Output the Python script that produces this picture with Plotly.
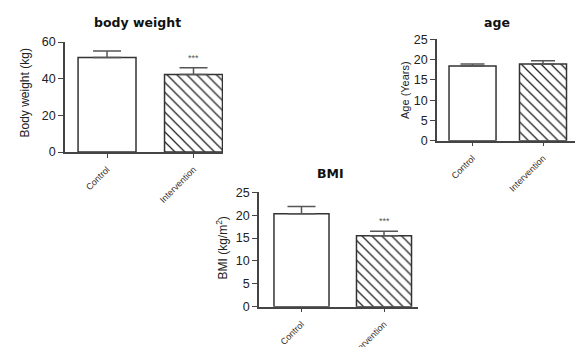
import plotly.graph_objects as go

groups = ["Control", "Intervention"]

bw_mean = [51.6, 42.3]
bw_err = [3.5, 3.7]

age_mean = [18.4, 18.9]
age_err = [0.5, 0.8]

bmi_mean = [20.3, 15.5]
bmi_err = [1.6, 1.0]

titles = ["body weight", "age", "BMI"]
ytitles = ["Body weight (kg)", "Age (Years)", "BMI (kg/m<sup>2</sup>)"]
sig_marks = ["", "***"]

W, H = 576, 347
def px(x):
    return x / W
def py(y):
    return 1 - y / H

panels = [
    dict(m=bw_mean, e=bw_err, xd=(65, 223), yd=(42, 152), xr=(-0.486, 1.341), ymax=60, dt=20, cap=14, bw=0.67,
         tpos=(137, 22), ypos=(25, 93.5), yts=12, stars=True),
    dict(m=age_mean, e=age_err, xd=(437, 575), yd=(39.3, 140.7), xr=(-0.504, 1.454), ymax=25, dt=5, cap=12, bw=0.667,
         tpos=(497, 22), ypos=(405, 90), yts=11, stars=False),
    dict(m=bmi_mean, e=bmi_err, xd=(259, 418), yd=(192.3, 306.7), xr=(-0.515, 1.412), ymax=25, dt=5, cap=14, bw=0.667,
         tpos=(330, 173), ypos=(221, 248.5), yts=12, stars=True),
]

fig = go.Figure()
annotations = []
axis_col = "#444444"
for i, p in enumerate(panels):
    k = "" if i == 0 else str(i + 1)
    xa, ya = "x" + k, "y" + k
    fig.add_trace(go.Bar(
        x=groups, y=p["m"], xaxis=xa, yaxis=ya, width=p["bw"],
        marker=dict(color="white", line=dict(color="#333333", width=1.5),
                    pattern=dict(shape=["", "\\"], size=7, solidity=0.18,
                                 fgcolor="#222222", bgcolor="white", fillmode="replace")),
        error_y=dict(type="data", symmetric=False, array=p["e"], arrayminus=[0, 0],
                     color="#555555", thickness=1.5, width=p["cap"]),
        showlegend=False, hoverinfo="skip",
    ))
    fig.update_layout(**{
        "xaxis" + k: dict(domain=[px(p["xd"][0]), px(p["xd"][1])], anchor=ya, range=list(p["xr"]),
                          type="category", showline=True, linecolor=axis_col, linewidth=1.5,
                          ticks="outside", ticklen=4, tickcolor=axis_col, tickwidth=1,
                          tickangle=-45, ticklabelstandoff=3, automargin=False,
                          tickfont=dict(family="Liberation Sans", size=9, color="#3a2e28"),
                          showgrid=False, zeroline=False, fixedrange=True),
        "yaxis" + k: dict(domain=[py(p["yd"][1]), py(p["yd"][0])], anchor=xa, range=[0, p["ymax"]],
                          dtick=p["dt"], showline=True, linecolor=axis_col, linewidth=1.5,
                          ticks="outside", ticklen=5, tickcolor=axis_col, tickwidth=1.2,
                          automargin=False,
                          tickfont=dict(family="Liberation Sans", size=12.5, color="#222222"),
                          showgrid=False, zeroline=False, fixedrange=True),
    })
    annotations.append(dict(text="<b>" + titles[i] + "</b>", x=px(p["tpos"][0]), y=py(p["tpos"][1]),
                            xref="paper", yref="paper", showarrow=False, xanchor="center", yanchor="middle",
                            font=dict(family="DejaVu Sans", size=12.5, color="#111111")))
    annotations.append(dict(text=ytitles[i], x=px(p["ypos"][0]), y=py(p["ypos"][1]),
                            xref="paper", yref="paper", showarrow=False, textangle=-90,
                            xanchor="center", yanchor="middle",
                            font=dict(family="Liberation Sans", size=p["yts"], color="#222222")))
    if p["stars"]:
        annotations.append(dict(text=sig_marks[1], x=groups[1], y=p["m"][1] + p["e"][1],
                                xref=xa, yref=ya, showarrow=False, yanchor="bottom", yshift=3,
                                font=dict(family="Liberation Sans", size=9, color="#555555")))

fig.update_layout(width=W, height=H, margin=dict(l=0, r=0, t=0, b=0, autoexpand=False),
                  paper_bgcolor="white", plot_bgcolor="white", annotations=annotations,
                  bargap=0.3)
fig.write_html("out.html", config={"displayModeBar": False},
               post_script="document.body.style.margin='0';document.body.style.overflow='hidden';")
